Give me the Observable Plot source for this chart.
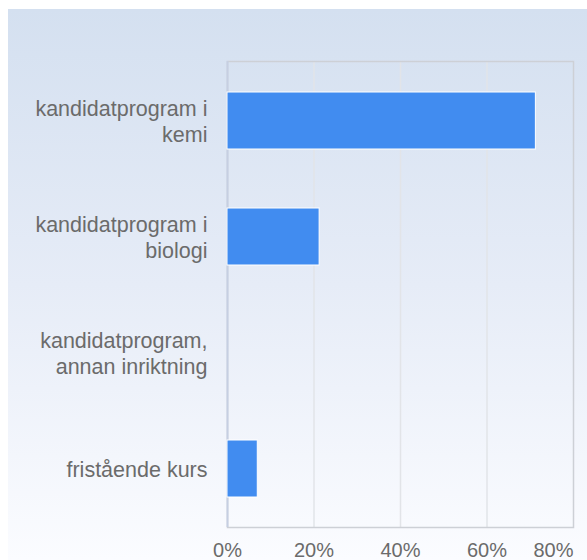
<!DOCTYPE html>
<html>
<head>
<meta charset="utf-8">
<script src="https://cdn.jsdelivr.net/npm/d3@7"></script>
<script src="https://cdn.jsdelivr.net/npm/@observablehq/plot@0.6"></script>
<style>
  html, body { margin: 0; padding: 0; background: #fff; }
  #bg { position: absolute; left: 8px; top: 9px; width: 579px; height: 551px;
        background: linear-gradient(to bottom, #d4e0f0 0%, #e6ecf7 50%, #fbfcff 100%); }
  #chart { position: absolute; left: 0; top: 0; }
  #chart svg { background: transparent; }
</style>
</head>
<body>
<div id="bg"></div>
<div id="chart"></div>
<script>
const categories = [
  "kandidatprogram i\nkemi",
  "kandidatprogram i\nbiologi",
  "kandidatprogram,\nannan inriktning",
  "fristående kurs"
];
const values = [71.3, 21.3, 0, 7.0];
const xTicks = [0, 20, 40, 60, 80];

const data = categories.map((c, i) => ({category: c, value: values[i]}));

const chart = Plot.plot({
  width: 587,
  height: 560,
  marginLeft: 227,
  marginRight: 14,
  marginTop: 61,
  marginBottom: 33,
  style: {fontFamily: "'Liberation Sans', Arial, sans-serif", fontSize: "20px", background: "transparent"},
  x: {domain: [0, 80], ticks: xTicks},
  y: {domain: categories, padding: 0.51, paddingOuter: 0.25, align: 0.5},
  marks: [
    Plot.gridX(xTicks.slice(1, -1), {stroke: "#e2e4e8", strokeOpacity: 1, strokeWidth: 1.5}),
    Plot.frame({stroke: "#cdd0d6", strokeWidth: 1.5}),
    Plot.ruleX([0], {stroke: "#c6cfe2", strokeWidth: 2}),
    Plot.barX(data, {y: "category", x: "value", fill: "#418cf0", stroke: "white", strokeWidth: 1}),
    Plot.axisY({tickSize: 0, tickPadding: 20, fill: "#6b6b6b", lineHeight: 1.17, fontSize: 21.5, label: null}),
    Plot.axisX(xTicks.slice(0, -1), {tickSize: 0, tickPadding: 15, fill: "#6b6b6b", fontSize: 20, tickFormat: d => d + "%", label: null}),
    Plot.axisX(xTicks.slice(-1), {tickSize: 0, tickPadding: 15, fill: "#6b6b6b", fontSize: 20, textAnchor: "end", dx: 0, tickFormat: d => d + "%", label: null})
  ]
});
document.getElementById("chart").appendChild(chart);
</script>
</body>
</html>
